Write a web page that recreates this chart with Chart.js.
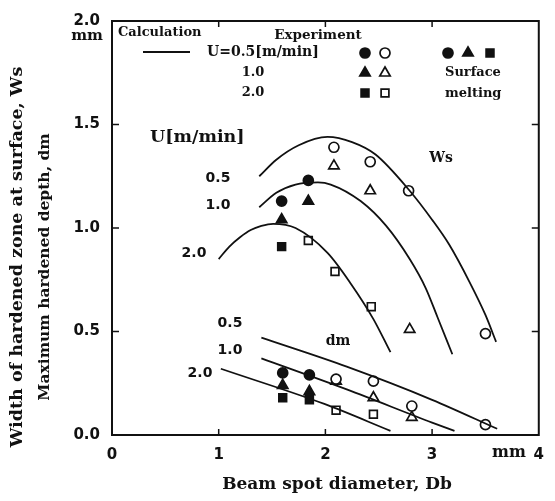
<!DOCTYPE html>
<html>
<head>
<meta charset="utf-8">
<script src="https://cdn.jsdelivr.net/npm/chart.js@4.4.0/dist/chart.umd.min.js"></script>
<style>
html, body { margin: 0; padding: 0; background: #fff; }
</style>
</head>
<body>
<canvas id="grafico" width="555" height="501"></canvas>
<script>
// calculation curves [Db, value] (mm)
var calcWs05 = [[1.38,1.25],[1.54,1.33],[1.75,1.40],[2.02,1.44],[2.25,1.415],[2.47,1.355],[2.79,1.18],[3.0,1.04],[3.16,0.92],[3.35,0.74],[3.50,0.58],[3.60,0.45]];
var calcWs10 = [[1.38,1.10],[1.54,1.17],[1.72,1.21],[1.93,1.22],[2.05,1.21],[2.33,1.13],[2.57,1.01],[2.79,0.85],[2.94,0.71],[3.05,0.57],[3.19,0.39]];
var calcWs20 = [[1.0,0.85],[1.1,0.91],[1.2,0.955],[1.3,0.99],[1.4,1.01],[1.51,1.02],[1.72,1.00],[2.02,0.88],[2.24,0.73],[2.45,0.56],[2.61,0.40]];
var calcDm05 = [[1.40,0.47],[2.2,0.33],[3.0,0.17],[3.61,0.03]];
var calcDm10 = [[1.40,0.37],[2.2,0.22],[3.0,0.06],[3.21,0.02]];
var calcDm20 = [[1.02,0.32],[1.99,0.15],[2.61,0.02]];

// experiment, surface melting (solid marks)
var meltWs05 = [[1.59,1.13],[1.84,1.23]];
var meltWs10 = [[1.59,1.04],[1.84,1.13]];
var meltWs20 = [[1.59,0.91]];
var meltDm05 = [[1.60,0.30],[1.85,0.29]];
var meltDm10 = [[1.60,0.24],[1.85,0.21]];
var meltDm20 = [[1.60,0.18],[1.85,0.17]];

// experiment, no melting (open marks)
var expWs05 = [[2.08,1.39],[2.42,1.32],[2.78,1.18],[3.50,0.49]];
var expWs10 = [[2.08,1.30],[2.42,1.18],[2.79,0.51]];
var expWs20 = [[1.84,0.94],[2.09,0.79],[2.43,0.62]];
var expDm05 = [[2.10,0.27],[2.45,0.26],[2.81,0.14],[3.50,0.05]];
var expDm10 = [[2.10,0.26],[2.45,0.18],[2.81,0.085]];
var expDm20 = [[2.10,0.12],[2.45,0.10]];

var xTicks = [0, 1, 2, 3, 4];
var yTicks = [0, 0.5, 1.0, 1.5, 2.0];

var ink = '#111';
var serif = 'DejaVu Serif';
var sans = 'DejaVu Sans';

function pts(a) {
    return a.map(function(p) { return {x: p[0], y: p[1]}; });
}
function curve(a) {
    return {data: pts(a), showLine: true, pointRadius: 0, borderColor: ink, borderWidth: 1.8,
        cubicInterpolationMode: 'monotone'};
}
function rad(style) {
    return style === 'circle' ? 5 : (style === 'triangle' ? 6 : 5.5);
}
function mark(a, style, filled) {
    return {data: pts(a), showLine: false, pointStyle: style, pointRadius: rad(style),
        backgroundColor: filled ? ink : '#fff', borderColor: ink, borderWidth: 1.7};
}

var textPlugin = {
    id: 'texts',
    afterDraw: function(chart) {
        var c = chart.ctx, a = chart.chartArea;
        var sx = chart.scales.x, sy = chart.scales.y;
        c.save();
        // frame
        c.strokeStyle = ink;
        c.lineWidth = 2;
        c.strokeRect(a.left, a.top, a.right - a.left, a.bottom - a.top);
        // inward ticks
        c.lineWidth = 1.5;
        [1, 2, 3].forEach(function(v) {
            var px = sx.getPixelForValue(v);
            c.beginPath();
            c.moveTo(px, a.bottom); c.lineTo(px, a.bottom - 6);
            c.moveTo(px, a.top); c.lineTo(px, a.top + 6);
            c.stroke();
        });
        [0.5, 1.0, 1.5].forEach(function(v) {
            var py = sy.getPixelForValue(v);
            c.beginPath();
            c.moveTo(a.left, py); c.lineTo(a.left + 7, py);
            c.moveTo(a.right, py); c.lineTo(a.right - 7, py);
            c.stroke();
        });

        c.fillStyle = ink;
        c.textBaseline = 'middle';
        function t(s, x, y, size, align, fam) {
            c.font = 'bold ' + size + 'px "' + (fam || serif) + '"';
            c.textAlign = align || 'center';
            c.fillText(s, x, y);
        }

        // units
        t('mm', 87, 36, 15);
        t('mm', 509, 453, 16);

        // axis titles
        t('Beam spot diameter, Db', 337, 485, 17);
        c.save();
        c.translate(17, 257);
        c.rotate(-Math.PI / 2);
        t('Width of hardened zone at surface, Ws', 0, 0, 17.5);
        c.restore();
        c.save();
        c.translate(45, 267);
        c.rotate(-Math.PI / 2);
        t('Maximum hardened depth, dm', 0, 0, 15.5);
        c.restore();

        // legend
        t('Calculation', 118, 33, 13, 'left');
        c.lineWidth = 2;
        c.beginPath(); c.moveTo(143, 52); c.lineTo(190, 52); c.stroke();
        t('Experiment', 318, 35, 13.5);
        t('U=0.5[m/min]', 207, 52, 14, 'left');
        t('1.0', 253, 73, 13);
        t('2.0', 253, 93, 13);
        t('Surface', 445, 73, 13, 'left');
        t('melting', 445, 94, 13, 'left');
        var H = Chart.helpers;
        function sym(style, x, y, filled) {
            c.fillStyle = filled ? ink : '#fff';
            c.strokeStyle = ink;
            c.lineWidth = 1.7;
            H.drawPoint(c, {pointStyle: style, radius: rad(style), rotation: 0, borderWidth: 1.7}, x, y);
        }
        sym('circle', 365, 53, true); sym('circle', 385, 53, false);
        sym('triangle', 365, 73, true); sym('triangle', 385, 73, false);
        sym('rect', 365, 93, true); sym('rect', 385, 93, false);
        sym('circle', 448, 53, true); sym('triangle', 468, 53, true); sym('rect', 490, 53, true);
        c.fillStyle = ink;

        // curve labels
        t('U[m/min]', 150, 137, 17.5, 'left');
        t('0.5', 218, 178, 14, 'center', sans);
        t('1.0', 218, 205, 14, 'center', sans);
        t('2.0', 194, 253, 14, 'center', sans);
        t('Ws', 441, 158, 14);
        t('0.5', 230, 323, 14, 'center', sans);
        t('1.0', 230, 350, 14, 'center', sans);
        t('2.0', 200, 373, 14, 'center', sans);
        t('dm', 338, 341, 14);
        c.restore();
    }
};

var ctx = document.getElementById('grafico').getContext('2d');
var grafico = new Chart(ctx, {
    type: 'scatter',
    data: {
        datasets: [
            curve(calcWs05), curve(calcWs10), curve(calcWs20),
            curve(calcDm05), curve(calcDm10), curve(calcDm20),
            mark(meltWs05, 'circle', true), mark(meltWs10, 'triangle', true), mark(meltWs20, 'rect', true),
            mark(meltDm05, 'circle', true), mark(meltDm10, 'triangle', true), mark(meltDm20, 'rect', true),
            mark(expWs05, 'circle', false), mark(expWs10, 'triangle', false), mark(expWs20, 'rect', false),
            mark(expDm05, 'circle', false), mark(expDm10, 'triangle', false), mark(expDm20, 'rect', false)
        ]
    },
    options: {
        responsive: false,
        animation: false,
        devicePixelRatio: 1,
        layout: { padding: { top: 15, right: 6, left: 0, bottom: 0 } },
        plugins: { legend: { display: false }, tooltip: { enabled: false } },
        scales: {
            x: {
                type: 'linear', min: 0, max: 4,
                grid: { display: false, drawTicks: false },
                border: { display: false },
                afterBuildTicks: function(s) { s.ticks = xTicks.map(function(v) { return {value: v}; }); },
                afterFit: function(s) { s.height = 66; },
                ticks: {
                    color: ink, padding: 11, maxRotation: 0,
                    font: { family: sans, weight: 'bold', size: 15 },
                    callback: function(v) { return v; }
                }
            },
            y: {
                type: 'linear', min: 0, max: 2,
                grid: { display: false, drawTicks: false },
                border: { display: false },
                afterBuildTicks: function(s) { s.ticks = yTicks.map(function(v) { return {value: v}; }); },
                afterFit: function(s) { s.width = 112; },
                ticks: {
                    color: ink, padding: 12,
                    font: { family: sans, weight: 'bold', size: 15 },
                    callback: function(v) { return v.toFixed(1); }
                }
            }
        }
    },
    plugins: [textPlugin]
});
</script>
</body>
</html>
